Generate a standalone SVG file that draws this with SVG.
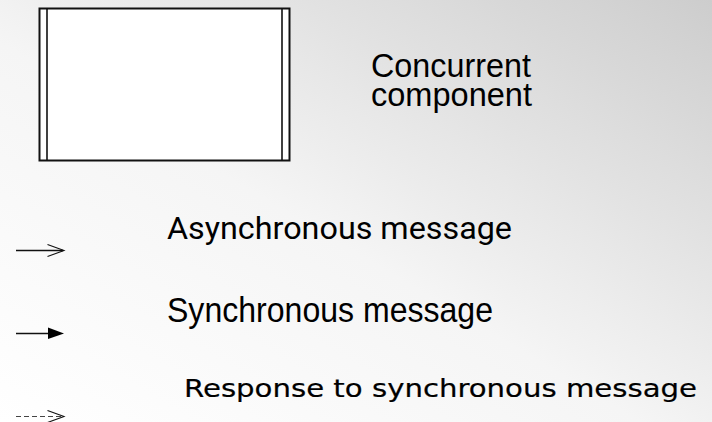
<svg xmlns="http://www.w3.org/2000/svg" width="712" height="422" viewBox="0 0 712 422">
  <defs>
    <linearGradient id="bg" x1="0" y1="1" x2="1" y2="0">
      <stop offset="0" stop-color="#ffffff"/>
      <stop offset="0.45" stop-color="#f5f5f5"/>
      <stop offset="1" stop-color="#cdcdcd"/>
    </linearGradient>
    <style>
      .frame { fill: #ffffff; stroke: #111111; stroke-width: 2; }
      .bar { stroke: #111111; stroke-width: 1.6; }
      .line { stroke: #111111; stroke-width: 1.3; fill: none; }
      .dash { stroke-dasharray: 5 3; stroke: #444444; stroke-width: 1; }
      .head-open { fill: none; stroke: #111111; stroke-width: 1.1; stroke-linejoin: miter; }
      .head-fill { fill: #000000; stroke: none; }
      .arial { font-family: "Liberation Sans", Arial, sans-serif; fill: #000000; }
      .roboto { font-family: Roboto, "Liberation Sans", sans-serif; fill: #000000; }
      .round { font-family: "DejaVu Sans", "Liberation Sans", sans-serif; fill: #000000; stroke: #000000; stroke-width: 0.2; }
    </style>
  </defs>

  <rect x="0" y="0" width="712" height="422" fill="url(#bg)"/>

  <!-- concurrent component symbol -->
  <g id="component-symbol">
    <rect class="frame" x="39.5" y="8.5" width="250" height="152"/>
    <line class="bar" x1="47" y1="8.5" x2="47" y2="160.5"/>
    <line class="bar" x1="282" y1="8.5" x2="282" y2="160.5"/>
  </g>

  <g id="component-label">
    <text class="arial" font-size="34">
      <tspan x="371" y="77" textLength="160" lengthAdjust="spacingAndGlyphs">Concurrent</tspan>
      <tspan x="371" y="106" textLength="161" lengthAdjust="spacingAndGlyphs">component</tspan>
    </text>
  </g>

  <!-- message notations -->
  <g id="connectors">
    <g id="async-arrow">
      <line class="line" x1="16" y1="250.5" x2="63" y2="250.5"/>
      <polyline class="head-open" points="47.5,244.5 64,250.5 47.5,256.5"/>
    </g>
    <g id="sync-arrow">
      <line class="line" x1="16" y1="333.5" x2="49" y2="333.5"/>
      <polygon class="head-fill" points="48,327.5 64,333.5 48,339"/>
    </g>
    <g id="reply-arrow">
      <line class="dash" x1="16" y1="416.5" x2="62" y2="416.5"/>
      <polyline class="head-open" points="47.5,410.5 64,416.5 47.5,422.5"/>
    </g>
  </g>

  <g id="async-label">
    <text class="roboto" font-size="32" x="167" y="239" textLength="345" lengthAdjust="spacingAndGlyphs">Asynchronous message</text>
  </g>
  <g id="sync-label">
    <text class="arial" font-size="35" x="167" y="322" textLength="326" lengthAdjust="spacingAndGlyphs">Synchronous message</text>
  </g>
  <g id="reply-label">
    <text class="round" font-size="24" x="184" y="397" textLength="513" lengthAdjust="spacingAndGlyphs">Response to synchronous message</text>
  </g>
</svg>
